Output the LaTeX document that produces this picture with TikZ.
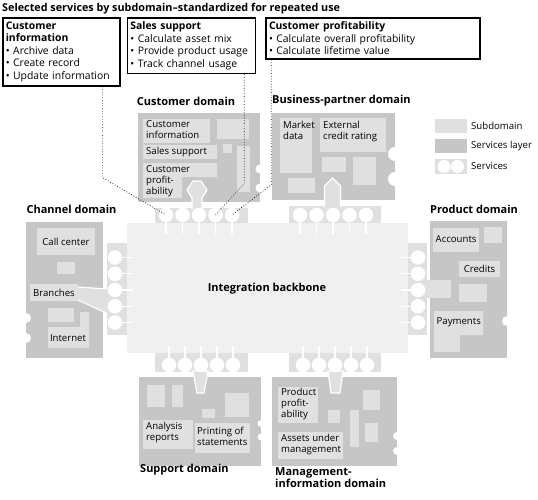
\documentclass[tikz,border=0pt]{standalone}
\usepackage{fontspec}
\setmainfont{Open Sans}
\usetikzlibrary{positioning,calc}
\definecolor{subgray}{HTML}{E0E0E0}
\definecolor{layergray}{HTML}{C6C6C6}
\definecolor{backgray}{HTML}{F0F0F0}

\begin{document}
\begin{tikzpicture}[x=1pt, y=-1pt,
  layer/.style={fill=layergray},
  sub/.style={fill=subgray},
  link/.style={fill=subgray, draw=white, line width=1.2pt},
  notch/.style={fill=white},
  hole/.style={circle, fill=white, inner sep=0pt, minimum size=14.5pt},
  stem/.style={draw=white, line width=1.1pt},
  lbl/.style={font=\fontsize{9.6}{11}\selectfont, align=left, inner sep=0pt},
  dom/.style={font=\fontsize{11}{12.5}\selectfont\bfseries, inner sep=0pt, align=left},
  svcbox/.style={draw=black, line width=1.6pt, anchor=north west, align=left, inner xsep=3pt, inner ysep=4pt, font=\fontsize{10.4}{12.5}\selectfont},
  dotline/.style={dotted, line width=0.7pt}
]
\useasboundingbox (0,0) rectangle (538,500);

% title and service boxes
\node[dom, anchor=west, font=\fontsize{10.8}{12.5}\selectfont\bfseries] (title) at (2,8.5) {Selected services by subdomain--standardized for repeated use};
\node[svcbox, text width=111pt] (cinfo) at (2,17) {\textbf{Customer}\\\textbf{information}\\• Archive data\\• Create record\\• Update information};
\node[svcbox, text width=122pt] (sales) at ([xshift=6pt]cinfo.north east) {\textbf{Sales support}\\• Calculate asset mix\\• Provide product usage\\• Track channel usage};
\node[svcbox, text width=208pt] (cprof) at ([xshift=9pt]sales.north east) {\textbf{Customer profitability}\\• Calculate overall profitability\\• Calculate lifetime value};

% customer domain
\node[dom] (custdom) at (186,101) {Customer domain};
\fill[layer] (138,113) rectangle (260,202);
\fill[notch] (260,169) circle (4.5) (260,188) circle (4.5);
\fill[sub] (143,119) rectangle (210,143);
\node[lbl, anchor=north west] (custinfo) at (146,120.5) {Customer\\information};
\fill[sub] (217,119) rectangle (249,139);
\fill[sub] (143,145) rectangle (217,159);
\node[lbl, anchor=west] (salessup) at (146,152) {Sales support};
\fill[sub] (223,144) rectangle (232,153);
\fill[sub] (237,146) rectangle (250,192);
\fill[sub] (143,163) rectangle (217,177) (143,177) rectangle (182,198);
\node[lbl, anchor=north west] (custprof) at (146,165) {Customer\\profit-\\ability};
\fill[sub] (155,208) rectangle (248,226);
\filldraw[link] (192,209) -- (192,198) -- (187,190) -- (193,181) -- (201,181) -- (207,190) -- (202,198) -- (202,209);

% business-partner domain
\node[dom, anchor=west] (bpdom) at (272,101) {Business-partner domain};
\fill[layer] (272,113) rectangle (395,200);
\fill[notch] (395,154) circle (7) (395,179) circle (7);
\fill[sub] (280,118) rectangle (312,173);
\node[lbl, anchor=north west] (market) at (283,121) {Market\\data};
\fill[sub] (320,118) rectangle (386,152);
\node[lbl, anchor=north west] (extcred) at (323,121) {External\\credit rating};
\fill[sub] (322,157) rectangle (346,172);
\fill[sub] (353,157) rectangle (376,185);
\fill[sub] (288,178) rectangle (315,193);
\fill[sub] (289,206) rectangle (381,226);
\filldraw[link] (324.5,207) -- (324.5,186) -- (332.5,178) -- (340.5,186) -- (340.5,207);

% channel domain
\node[dom] (chdom) at (71.5,209) {Channel domain};
\fill[layer] (26,222) rectangle (103,358);
\fill[notch] (26,318) circle (5) (26,338) circle (5);
\fill[sub] (37,228) rectangle (95,255);
\node[lbl] (callc) at (66,241.5) {Call center};
\fill[sub] (57,262) rectangle (75,274);
\fill[sub] (30,284) rectangle (78,301);
\node[lbl] (branch) at (54,292.5) {Branches};
\fill[sub] (48,308) rectangle (74,322);
\fill[sub] (80,312) rectangle (89,327) (48,327) rectangle (89,348);
\node[lbl] (inet) at (68,338) {Internet};
\fill[sub] (107,243) rectangle (129,335);
\fill[sub] (78,287) -- (108,289) -- (108,313) -- (78,300) -- cycle;
\draw[stem] (78,287) -- (107,289) (78,300) -- (106,313);

% product domain
\node[dom] (prdom) at (474,209) {Product domain};
\fill[layer] (430,221) rectangle (507,358);
\fill[notch] (507,321) circle (5);
\fill[sub] (433,228) rectangle (479,252);
\node[lbl, anchor=west] (accts) at (435.5,239.5) {Accounts};
\fill[sub] (484,227) rectangle (502,243);
\fill[sub] (459,261) rectangle (500,277);
\node[lbl] (credits) at (479.5,268.5) {Credits};
\fill[sub] (459,284) rectangle (487,302);
\fill[sub] (434,311) rectangle (483,335) (434,335) rectangle (460,352);
\node[lbl, anchor=west] (paym) at (436.5,322) {Payments};
\fill[sub] (406,243) rectangle (427,335);
\fill[sub] (426,280) rectangle (451,298);

% support domain
\fill[sub] (155,345) rectangle (248,372);
\fill[layer] (139,377) rectangle (261,466);
\fill[notch] (261,423.5) circle (3.5) (261,437) circle (3.5);
\fill[sub] (147,385) rectangle (165,407);
\fill[sub] (172,385) rectangle (183,407);
\fill[sub] (225,393) rectangle (249,417);
\fill[sub] (202,409) rectangle (215,418);
\fill[sub] (143,420) rectangle (193,449);
\node[lbl, anchor=north west] (analysis) at (146,422) {Analysis\\reports};
\fill[sub] (195,423) rectangle (250,453);
\node[lbl, anchor=north west] (printst) at (197,426.5) {Printing of\\statements};
\filldraw[link] (193,371) -- (208,371) -- (204,393) -- (197,393) -- cycle;
\node[dom, anchor=west] (sudom) at (140,470) {Support domain};

% management-information domain
\fill[sub] (289,345) rectangle (381,372);
\fill[layer] (272,377) rectangle (397,466);
\fill[notch] (397,436) circle (4) (397,451) circle (4);
\fill[sub] (278,387) rectangle (318,423);
\node[lbl, anchor=north west] (prodprof) at (281,388) {Product\\profit-\\ability};
\fill[sub] (278,432) rectangle (343,459);
\node[lbl, anchor=north west] (assets) at (281,434) {Assets under\\management};
\fill[sub] (328,410) rectangle (340,423);
\fill[sub] (350,410) rectangle (359,447);
\fill[sub] (363,390) rectangle (380,410);
\fill[sub] (365,423) rectangle (378,442);
\filldraw[link] (328,371) -- (343,371) -- (340,393) -- (331,393) -- cycle;
\node[dom, anchor=north west] (mgdom) at (275,467) {Management-\\information domain};

% integration backbone
\fill[backgray] (127,223) rectangle (408,353);
\node[dom] (backbone) at (267,289) {Integration backbone};

% services
\foreach \x [count=\i] in {166,182.5,199,215.5,232} {
  \draw[stem] (\x,215) -- (\x,234);
  \node[hole] (cu\i) at (\x,215) {};
}
\foreach \x [count=\i] in {300,316.5,333,349.5,366} {
  \draw[stem] (\x,215) -- (\x,234);
  \node[hole] (bp\i) at (\x,215) {};
}
\foreach \x [count=\i] in {169,185,201,217,233} {
  \draw[stem] (\x,365) -- (\x,346);
  \node[hole] (su\i) at (\x,365) {};
}
\foreach \x [count=\i] in {303,319,335,351,367} {
  \draw[stem] (\x,365) -- (\x,346);
  \node[hole] (mg\i) at (\x,365) {};
}
\foreach \y [count=\i] in {257.5,273.8,290,306.3,322.5} {
  \draw[stem] (115,\y) -- (133,\y);
  \node[hole] (ch\i) at (115,\y) {};
  \draw[stem] (418,\y) -- (401,\y);
  \node[hole] (pr\i) at (418,\y) {};
}

% legend
\fill[sub] (435,119) rectangle (467,133);
\node[lbl, anchor=west] (lgsub) at (471,126) {Subdomain};
\fill[layer] (435,139) rectangle (467,153);
\node[lbl, anchor=west] (lglayer) at (471,146) {Services layer};
\begin{scope}
  \clip (435,159) rectangle (467,174);
  \fill[sub] (435,159) rectangle (467,174);
  \fill[white] (444,166.5) circle (6.5) (457.5,166.5) circle (6.5);
\end{scope}
\node[lbl, anchor=west] (lgsvc) at (471,166.5) {Services};

% dotted leaders
\draw[dotline] ([xshift=-18pt]cinfo.south east) -- ++(0,91) -- (cu1.center);
\draw[dotline] ([xshift=-12pt]sales.south east) -- ++(0,109) -- (cu4.center);
\draw[dotline] ([xshift=6pt]cprof.south west) -- ++(0,125) -- (cu5.center);
\end{tikzpicture}
\end{document}
